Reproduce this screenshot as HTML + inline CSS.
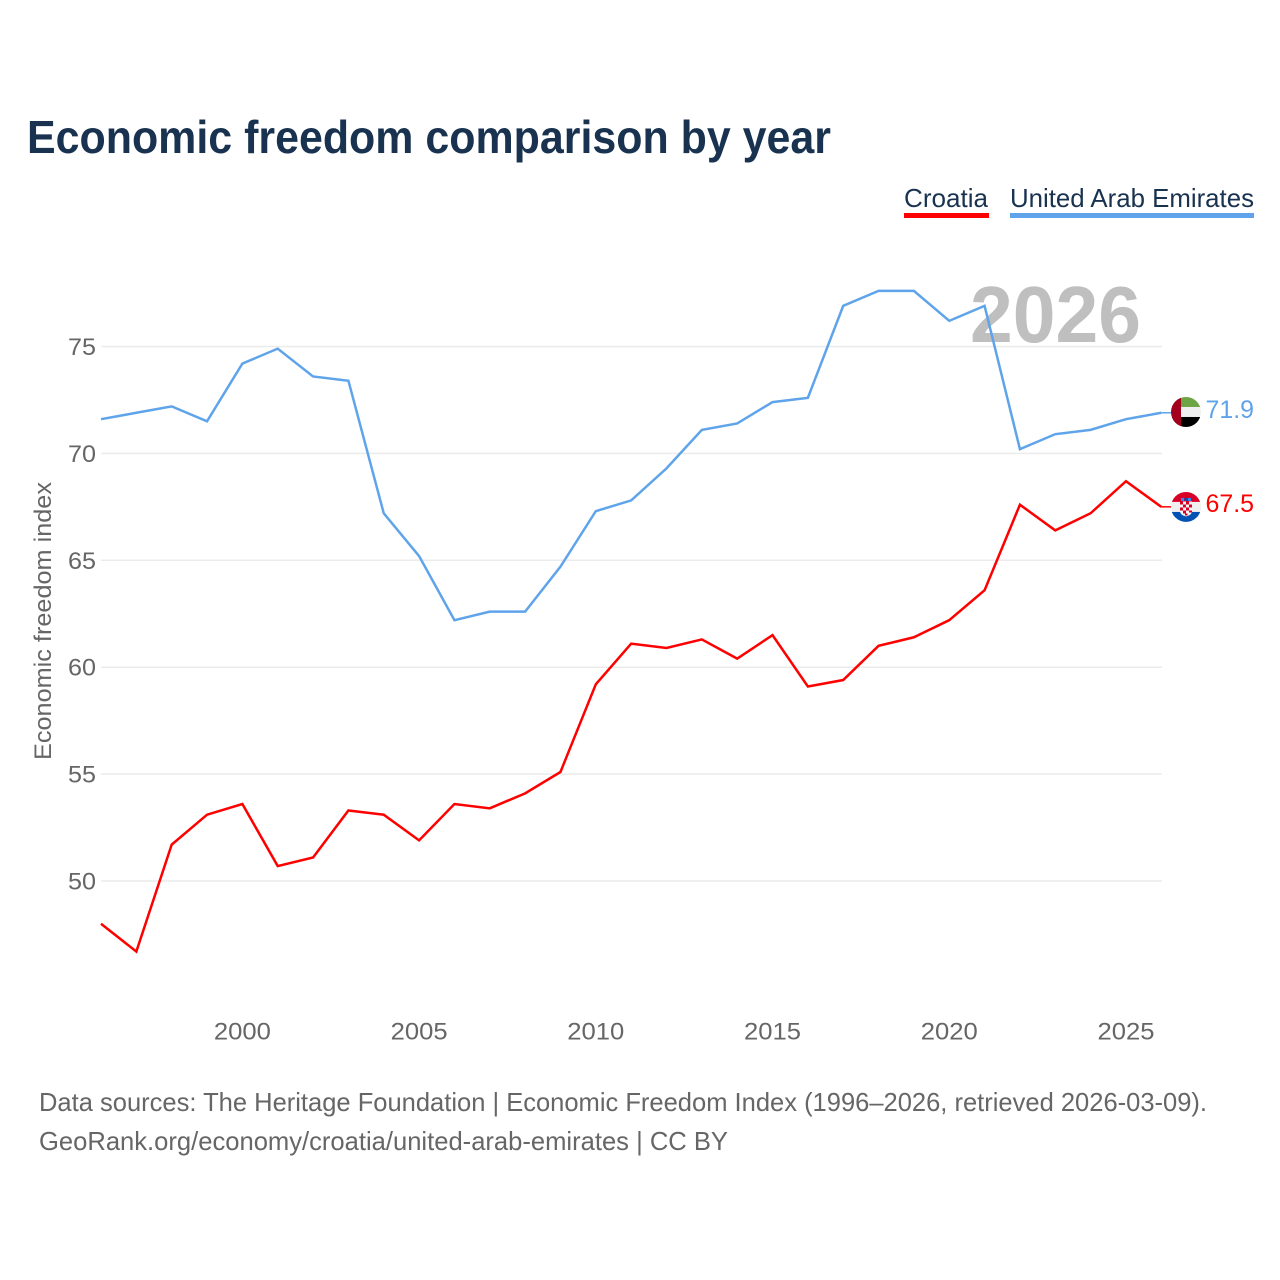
<!DOCTYPE html>
<html lang="en">
<head>
<meta charset="utf-8">
<title>Economic freedom comparison by year</title>
<style>
html,body{margin:0;padding:0;background:#fff;width:1280px;height:1280px;overflow:hidden}
svg{display:block}
text{font-family:"Liberation Sans",sans-serif}
</style>
</head>
<body>
<svg id="chart" xmlns="http://www.w3.org/2000/svg" width="1280" height="1280" viewBox="0 0 1280 1280">
  <defs>
    <clipPath id="flag-clip"><circle cx="0" cy="0" r="15"/></clipPath>
  </defs>
  <rect x="0" y="0" width="1280" height="1280" fill="#fff"/>
  <text x="27" y="153" font-size="46" font-weight="700" fill="#18324f" textLength="804" lengthAdjust="spacingAndGlyphs">Economic freedom comparison by year</text>

  <g>
    <g>
      <text x="904" y="207" font-size="26" fill="#18324f" textLength="84" lengthAdjust="spacingAndGlyphs">Croatia</text>
      <rect x="904" y="213" width="85" height="5" fill="#ff0000"/>
    </g>
    <g>
      <text x="1010" y="207" font-size="26" fill="#18324f" textLength="244" lengthAdjust="spacingAndGlyphs">United Arab Emirates</text>
      <rect x="1010" y="213" width="244" height="5" fill="#5fa4ea"/>
    </g>
  </g>

  <g id="grid"></g>
  <text x="970" y="342" font-size="80" font-weight="700" fill="#bfbfbf" textLength="171" lengthAdjust="spacingAndGlyphs">2026</text>
  <g id="y-ticks"></g>
  <g id="x-ticks"></g>
  <text transform="translate(51,621) rotate(-90)" text-anchor="middle" font-size="24" fill="#666" textLength="278" lengthAdjust="spacingAndGlyphs">Economic freedom index</text>
  <g id="series"></g>

  <g id="flag-uae">
    <g clip-path="url(#flag-clip)">
      <rect x="-15" y="-15" width="30" height="10" fill="#6da544"/>
      <rect x="-15" y="-5" width="30" height="10" fill="#f0f0f0"/>
      <rect x="-15" y="5" width="30" height="10" fill="#000"/>
      <rect x="-15" y="-15" width="10" height="30" fill="#a2001d"/>
    </g>
  </g>
  <g id="flag-croatia">
    <g clip-path="url(#flag-clip)">
      <rect x="-15" y="-15" width="30" height="10" fill="#d80027"/>
      <rect x="-15" y="-5" width="30" height="10" fill="#f0f0f0"/>
      <rect x="-15" y="5" width="30" height="10" fill="#0052b4"/>
      <rect x="-5" y="-9" width="3" height="3" fill="#338af3"/>
      <rect x="-1.5" y="-9" width="3" height="3" fill="#0052b4"/>
      <rect x="2" y="-9" width="3" height="3" fill="#338af3"/>
      <path d="M-6-5.500H6V4Q6 8 0 9.500Q-6 8-6 4Z" fill="#f4f4f4"/>
      <path d="M-6-5.500h3v3h-3zM0-5.500h3v3h-3zM-3-2.500h3v3h-3zM3-2.500h3v3h-3zM-6 .5h3v3h-3zM0 .5h3v3h-3zM-3 3.500h3v3h-3zM3 3.500h3v2h-3zM-1 6.500h2.500v2h-2.500z" fill="#d80027"/>
    </g>
  </g>
  <text id="end-label-uae" x="1205.500" font-size="25" fill="#5fa4ea" textLength="48.500" lengthAdjust="spacingAndGlyphs"></text>
  <text id="end-label-croatia" x="1205.500" font-size="25" fill="#ff0000" textLength="48.500" lengthAdjust="spacingAndGlyphs"></text>

  <text x="39" y="1111" font-size="26" fill="#666" textLength="1168" lengthAdjust="spacingAndGlyphs">Data sources: The Heritage Foundation | Economic Freedom Index (1996–2026, retrieved 2026-03-09).</text>
  <text x="39" y="1150" font-size="26" fill="#666" textLength="689" lengthAdjust="spacingAndGlyphs">GeoRank.org/economy/croatia/united-arab-emirates | CC BY</text>
</svg>
<script>
const years = [1996,1997,1998,1999,2000,2001,2002,2003,2004,2005,2006,2007,2008,2009,2010,2011,2012,2013,2014,2015,2016,2017,2018,2019,2020,2021,2022,2023,2024,2025,2026];
const croatia = [48.0,46.7,51.7,53.1,53.6,50.7,51.1,53.3,53.1,51.9,53.6,53.4,54.1,55.1,59.2,61.1,60.9,61.3,60.4,61.5,59.1,59.4,61.0,61.4,62.2,63.6,67.6,66.4,67.2,68.7,67.5];
const uae = [71.6,71.9,72.2,71.5,74.2,74.9,73.6,73.4,67.2,65.2,62.2,62.6,62.6,64.7,67.3,67.8,69.3,71.1,71.4,72.4,72.6,76.9,77.6,77.6,76.2,76.9,70.2,70.9,71.1,71.6,71.9];
const yTicks = [50,55,60,65,70,75];
const xTicks = [2000,2005,2010,2015,2020,2025];

const SVG_NS = 'http://www.w3.org/2000/svg';
const x = function (year) { return 101 + (year - 1996) * (1161.3 - 101) / 30; };
const y = function (value) { return 881 - (value - 50) * 21.38; };

const gridLayer = document.getElementById('grid');
const yTickLayer = document.getElementById('y-ticks');
const xTickLayer = document.getElementById('x-ticks');
const seriesLayer = document.getElementById('series');

yTicks.forEach(function (tick) {
  const line = document.createElementNS(SVG_NS, 'line');
  
  
  line.setAttribute('x1', 101);
  line.setAttribute('x2', 1162);
  line.setAttribute('y1', y(tick));
  line.setAttribute('y2', y(tick));
  line.setAttribute('stroke', '#ebebeb');
  line.setAttribute('stroke-width', '1.5');
  gridLayer.appendChild(line);

  const label = document.createElementNS(SVG_NS, 'text');
  
  
  label.setAttribute('x', 68);
  label.setAttribute('y', y(tick) + 8.5);
  label.setAttribute('font-size', '24.500');
  label.setAttribute('fill', '#666');
  label.setAttribute('textLength', '28');
  label.setAttribute('lengthAdjust', 'spacingAndGlyphs');
  label.textContent = tick;
  yTickLayer.appendChild(label);
});

xTicks.forEach(function (tick) {
  const label = document.createElementNS(SVG_NS, 'text');
  
  
  label.setAttribute('x', x(tick) - 28.5);
  label.setAttribute('y', 1039.5);
  label.setAttribute('font-size', '24.500');
  label.setAttribute('fill', '#666');
  label.setAttribute('textLength', '57');
  label.setAttribute('lengthAdjust', 'spacingAndGlyphs');
  label.textContent = tick;
  xTickLayer.appendChild(label);
});

function pointsFor(values) {
  return values.map(function (value, i) {
    return x(years[i]).toFixed(2) + ',' + y(value).toFixed(2);
  }).join(' ');
}

const uaeLine = document.createElementNS(SVG_NS, 'polyline');


uaeLine.setAttribute('points', pointsFor(uae));
uaeLine.setAttribute('fill', 'none');
uaeLine.setAttribute('stroke', '#5fa4ea');
uaeLine.setAttribute('stroke-width', '2.5');
uaeLine.setAttribute('stroke-linejoin', 'miter');
seriesLayer.appendChild(uaeLine);

const croatiaLine = document.createElementNS(SVG_NS, 'polyline');


croatiaLine.setAttribute('points', pointsFor(croatia));
croatiaLine.setAttribute('fill', 'none');
croatiaLine.setAttribute('stroke', '#ff0000');
croatiaLine.setAttribute('stroke-width', '2.5');
croatiaLine.setAttribute('stroke-linejoin', 'miter');
seriesLayer.appendChild(croatiaLine);

const lastYear = years[years.length - 1];
const uaeLast = uae[uae.length - 1];
const croatiaLast = croatia[croatia.length - 1];

const uaeStub = document.createElementNS(SVG_NS, 'line');


uaeStub.setAttribute('x1', x(lastYear));
uaeStub.setAttribute('x2', x(lastYear) + 12);
uaeStub.setAttribute('y1', y(uaeLast));
uaeStub.setAttribute('y2', y(uaeLast));
uaeStub.setAttribute('stroke', '#5fa4ea');
uaeStub.setAttribute('stroke-width', '1.5');
seriesLayer.appendChild(uaeStub);

const croatiaStub = document.createElementNS(SVG_NS, 'line');


croatiaStub.setAttribute('x1', x(lastYear));
croatiaStub.setAttribute('x2', x(lastYear) + 12);
croatiaStub.setAttribute('y1', y(croatiaLast));
croatiaStub.setAttribute('y2', y(croatiaLast));
croatiaStub.setAttribute('stroke', '#ff0000');
croatiaStub.setAttribute('stroke-width', '1.5');
seriesLayer.appendChild(croatiaStub);

document.getElementById('flag-uae').setAttribute('transform', 'translate(1186,' + (y(uaeLast) - 0.8) + ')');
document.getElementById('flag-croatia').setAttribute('transform', 'translate(1186,' + (y(croatiaLast) + 0.1) + ')');

const uaeEnd = document.getElementById('end-label-uae');
uaeEnd.setAttribute('y', y(uaeLast) + 5);
uaeEnd.textContent = uaeLast.toFixed(1);

const croatiaEnd = document.getElementById('end-label-croatia');
croatiaEnd.setAttribute('y', y(croatiaLast) + 5);
croatiaEnd.textContent = croatiaLast.toFixed(1);
</script>
</body>
</html>
